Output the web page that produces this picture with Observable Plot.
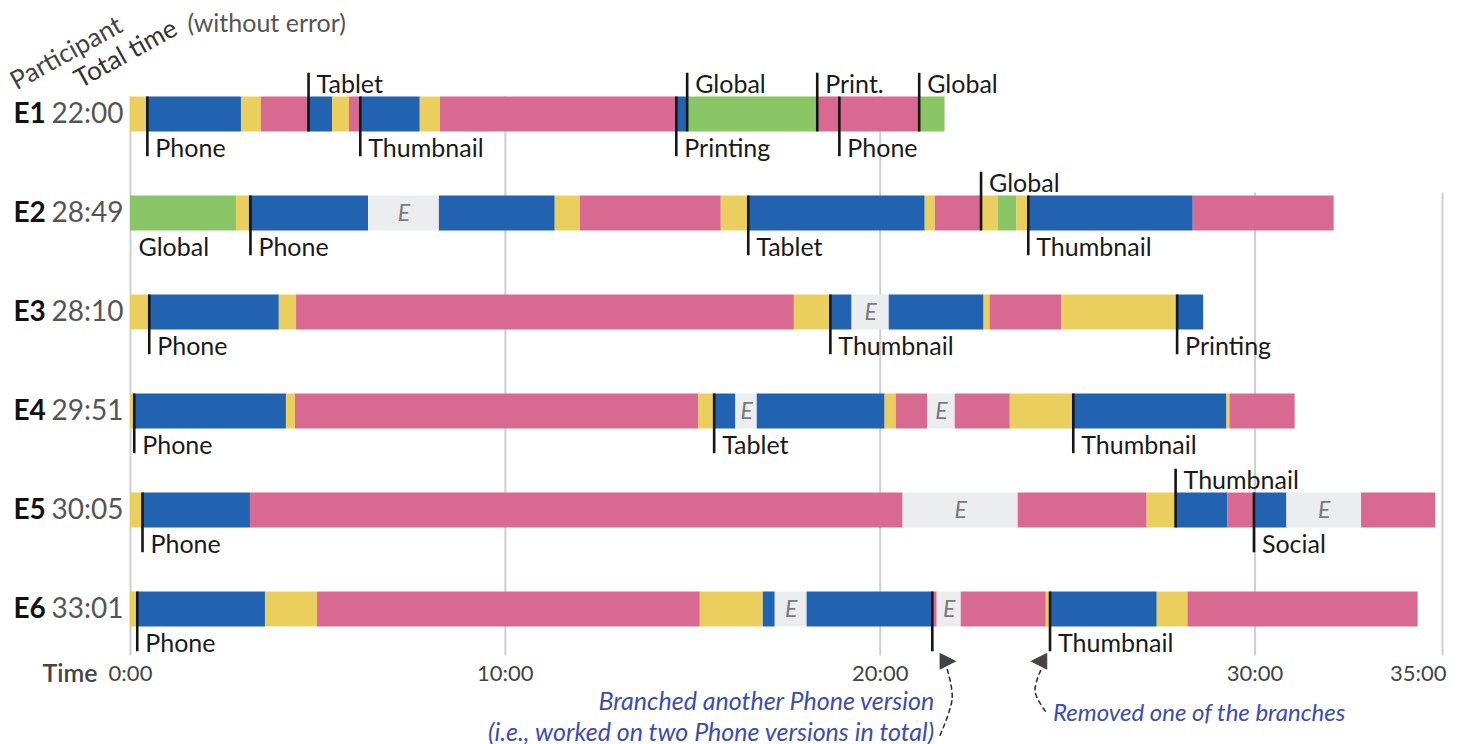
<!DOCTYPE html>
<html><head><meta charset="utf-8">
<script src="https://cdn.jsdelivr.net/npm/d3@7"></script>
<script src="https://cdn.jsdelivr.net/npm/@observablehq/plot@0.6"></script>
<style>
body{margin:0;background:#fff;}
svg{display:block;}
</style>
</head><body><div id="chart"></div>
<script>
// ---------------- data ----------------
const participants = ["E1", "E2", "E3", "E4", "E5", "E6"];
const totalTimes = ["22:00", "28:49", "28:10", "29:51", "30:05", "33:01"];

// activity segments: [activity, start (min), end (min)]
const segmentsE1 = [["Y",0,0.43],["B",0.43,2.96],["Y",2.96,3.49],["P",3.49,4.72],["B",4.72,5.39],["Y",5.39,5.84],["P",5.84,6.13],["B",6.13,7.73],["Y",7.73,8.27],["P",8.27,14.56],["B",14.56,14.85],["G",14.85,18.32],["P",18.32,21.04],["G",21.04,21.73]];
const segmentsE2 = [["G",0,2.83],["Y",2.83,3.17],["B",3.17,6.35],["E",6.35,8.24],["B",8.24,11.33],["Y",11.33,12.0],["P",12.0,15.76],["Y",15.76,16.48],["B",16.48,21.2],["Y",21.2,21.47],["P",21.47,22.69],["Y",22.69,23.15],["G",23.15,23.65],["Y",23.65,23.95],["B",23.95,28.35],["P",28.35,32.11]];
const segmentsE3 = [["Y",0,0.5],["B",0.5,3.97],["Y",3.97,4.43],["P",4.43,17.71],["Y",17.71,18.67],["B",18.67,19.25],["E",19.25,20.24],["B",20.24,22.77],["Y",22.77,22.93],["P",22.93,24.85],["Y",24.85,27.92],["B",27.92,28.63]];
const segmentsE4 = [["Y",0,0.1],["B",0.1,4.16],["Y",4.16,4.4],["P",4.4,15.16],["Y",15.16,15.57],["B",15.57,16.15],["E",16.15,16.72],["B",16.72,20.13],["Y",20.13,20.43],["P",20.43,21.27],["E",21.27,22.0],["P",22.0,23.47],["Y",23.47,25.15],["B",25.15,29.25],["Y",29.25,29.33],["P",29.33,31.07]];
const segmentsE5 = [["Y",0,0.32],["B",0.32,3.2],["P",3.2,20.61],["E",20.61,23.68],["P",23.68,27.12],["Y",27.12,27.88],["B",27.88,29.27],["P",29.27,29.97],["B",29.97,30.85],["E",30.85,32.84],["P",32.84,34.82]];
const segmentsE6 = [["Y",0,0.18],["B",0.18,3.6],["Y",3.6,4.99],["P",4.99,15.2],["Y",15.2,16.88],["B",16.88,17.2],["E",17.2,18.05],["B",18.05,21.39],["P",21.39,21.52],["E",21.52,22.16],["P",22.16,24.43],["Y",24.43,24.53],["B",24.53,27.39],["Y",27.39,28.21],["P",28.21,34.35]];

// version markers: [label, time (min), side, draw tick]
const markersE1 = [["Phone",0.45,"below",true],["Tablet",4.75,"above",true],["Thumbnail",6.13,"below",true],["Printing",14.56,"below",true],["Global",14.85,"above",true],["Print.",18.32,"above",true],["Phone",18.91,"below",true],["Global",21.04,"above",true]];
const markersE2 = [["Global",0,"below",false],["Phone",3.2,"below",true],["Tablet",16.48,"below",true],["Global",22.69,"above",true],["Thumbnail",23.95,"below",true]];
const markersE3 = [["Phone",0.5,"below",true],["Thumbnail",18.67,"below",true],["Printing",27.92,"below",true]];
const markersE4 = [["Phone",0.1,"below",true],["Tablet",15.57,"below",true],["Thumbnail",25.15,"below",true]];
const markersE5 = [["Phone",0.32,"below",true],["Thumbnail",27.88,"above",true],["Social",29.97,"below",true]];
const markersE6 = [["Phone",0.18,"below",true],["",21.39,"below",true],["Thumbnail",24.53,"below",true]];

const tickMinutes = [0, 10, 20, 30, 35];
const tickLabels = ["0:00", "10:00", "20:00", "30:00", "35:00"];

const activityTypes = ["Y", "B", "P", "G", "E"];
const activityColors = ["#ebcf5e", "#2163b0", "#d86a91", "#8ac665", "#ecedef"];

// annotations anchored on E6 markers: [row, marker time, side, lines]
const noteBranch = [6, 21.39, "right", ["Branched another Phone version", "(i.e., worked on two Phone versions in total)"]];
const noteRemove = [6, 24.53, "left", ["Removed one of the branches"]];

// ---------------- build ----------------
const segmentRows = [segmentsE1, segmentsE2, segmentsE3, segmentsE4, segmentsE5, segmentsE6];
const markerRows = [markersE1, markersE2, markersE3, markersE4, markersE5, markersE6];
const segments = segmentRows.flatMap((rows, i) => rows.map(([type, start, end]) => ({row: i + 1, type, start, end})));
const markers = markerRows.flatMap((rows, i) => rows.map(([label, t, side, tick]) => ({row: i + 1, label, t, side, tick})));
const rowLabels = participants.map((p, i) => ({row: i + 1, id: p, total: totalTimes[i]}));
const ticks = tickMinutes.map((t, i) => ({t, label: tickLabels[i]}));

const HALF = 17.5 / 99;      // half bar height in row units
const EXT_BELOW = 0.25;
const EXT_ABOVE = 0.24;
const AXIS_Y = 6.65;

const FONT = "Lato, 'Source Sans Pro', sans-serif";

// annotation geometry (relative to anchor marker)
function notePieces(note) {
  const [row, t, side, lines] = note;
  const base = row + HALF + 0.3;
  if (side === "right") {
    return {
      tri: {t: t + 0.42, y: base + 0.03, glyph: "▶"},
      path: [[t + 0.4, base + 0.13], [t + 0.53, base + 0.42], [t + 0.2, base + 0.8]].map(([x, y]) => ({x, y})),
      text: lines.map((s, i) => ({x: t + 0.05, y: base + 0.535 + i * 0.32, s, anchor: "end"}))
    };
  } else {
    return {
      tri: {t: t - 0.3, y: base + 0.03, glyph: "◀"},
      path: [[t - 0.25, base + 0.14], [t - 0.4, base + 0.35], [t - 0.07, base + 0.58]].map(([x, y]) => ({x, y})),
      text: lines.map((s, i) => ({x: t + 0.08, y: base + 0.65 + i * 0.32, s, anchor: "start"}))
    };
  }
}
const n1 = notePieces(noteBranch);
const n2 = notePieces(noteRemove);
const noteTexts = [...n1.text, ...n2.text];

const chart = Plot.plot({
  width: 1460,
  height: 744,
  margin: 0,
  style: {fontFamily: FONT, background: "#fff", overflow: "visible"},
  x: {domain: [0, 35], range: [130, 1442], axis: null},
  y: {domain: [1, 6], range: [114, 609], axis: null},
  color: {domain: activityTypes, range: activityColors},
  marks: [
    // gridlines
    Plot.ruleX(tickMinutes.filter(t => t <= 20), {x: d => d, y1: 1 - HALF, y2: 6.47, stroke: "#cfcfcf", strokeWidth: 2}),
    Plot.ruleX(tickMinutes.filter(t => t > 20), {x: d => d, y1: 2 - HALF - 0.03, y2: 6.47, stroke: "#cfcfcf", strokeWidth: 2}),
    // segments
    Plot.rect(segments, {x1: "start", x2: "end", y1: d => d.row - HALF, y2: d => d.row + HALF, fill: "type"}),
    Plot.text(segments.filter(d => d.type === "E"), {x: d => (d.start + d.end) / 2, y: "row", text: () => "E", fontStyle: "italic", fill: "#7a7a7a", fontSize: 23}),
    // markers
    Plot.ruleX(markers.filter(d => d.tick), {
      x: "t",
      y1: d => d.side === "below" ? d.row - HALF : d.row - HALF - EXT_ABOVE,
      y2: d => d.side === "below" ? d.row + HALF + EXT_BELOW : d.row + HALF,
      stroke: "#151515", strokeWidth: 2.6
    }),
    Plot.text(markers.filter(d => d.side === "below" && d.label), {
      x: "t", y: d => d.row + HALF + EXT_BELOW, text: "label", dx: 8,
      textAnchor: "start", lineAnchor: "bottom", fontSize: 25, fill: "#1a1a1a"
    }),
    Plot.text(markers.filter(d => d.side === "above"), {
      x: "t", y: d => d.row - HALF - 0.04, text: "label", dx: 8,
      textAnchor: "start", lineAnchor: "bottom", fontSize: 25, fill: "#1a1a1a"
    }),
    // row labels
    Plot.text(rowLabels, {x: 0, y: "row", text: "id", dx: -117, textAnchor: "start", fontWeight: "bold", fontSize: 28, fill: "#111"}),
    Plot.text(rowLabels, {x: 0, y: "row", text: "total", dx: -7, textAnchor: "end", fontSize: 28, fill: "#555"}),
    // axis
    Plot.text(ticks.filter(d => d.t < 35), {x: "t", y: AXIS_Y, text: "label", fontSize: 22, fill: "#444"}),
    Plot.text(ticks.filter(d => d.t === 35), {x: "t", y: AXIS_Y, text: "label", dx: 4, textAnchor: "end", fontSize: 22, fill: "#444"}),
    Plot.text(["Time"], {x: 0, y: AXIS_Y, text: d => d, dx: -33, textAnchor: "end", fontSize: 25, fontWeight: 600, fill: "#444"}),
    // header
    Plot.text(["Participant"], {frameAnchor: "top-left", dx: 16, dy: 90, rotate: -29, text: d => d, textAnchor: "start", lineAnchor: "bottom", fontSize: 26, fill: "#444"}),
    Plot.text(["Total time"], {frameAnchor: "top-left", dx: 80, dy: 88, rotate: -29, text: d => d, textAnchor: "start", lineAnchor: "bottom", fontSize: 26, fill: "#333"}),
    Plot.text(["(without error)"], {frameAnchor: "top-left", dx: 187, dy: 31, text: d => d, textAnchor: "start", lineAnchor: "bottom", fontSize: 25, fill: "#555"}),
    // annotations
    Plot.line(n1.path, {x: "x", y: "y", curve: "catmull-rom", stroke: "#333", strokeWidth: 1.6, strokeDasharray: "4,4"}),
    Plot.line(n2.path, {x: "x", y: "y", curve: "catmull-rom", stroke: "#333", strokeWidth: 1.6, strokeDasharray: "4,4"}),
    Plot.text([n1.tri, n2.tri], {x: "t", y: "y", text: "glyph", fontFamily: "DejaVu Sans", fontSize: 22, fill: "#444"}),
    Plot.text(noteTexts.filter(d => d.anchor === "end"), {x: "x", y: "y", text: "s", textAnchor: "end", lineAnchor: "bottom", fontStyle: "italic", fontSize: 25, fill: "#3b4db3"}),
    Plot.text(noteTexts.filter(d => d.anchor === "start"), {x: "x", y: "y", text: "s", textAnchor: "start", lineAnchor: "bottom", fontStyle: "italic", fontSize: 24, fill: "#3b4db3"})
  ]
});
document.getElementById("chart").appendChild(chart);
</script>
</body></html>
